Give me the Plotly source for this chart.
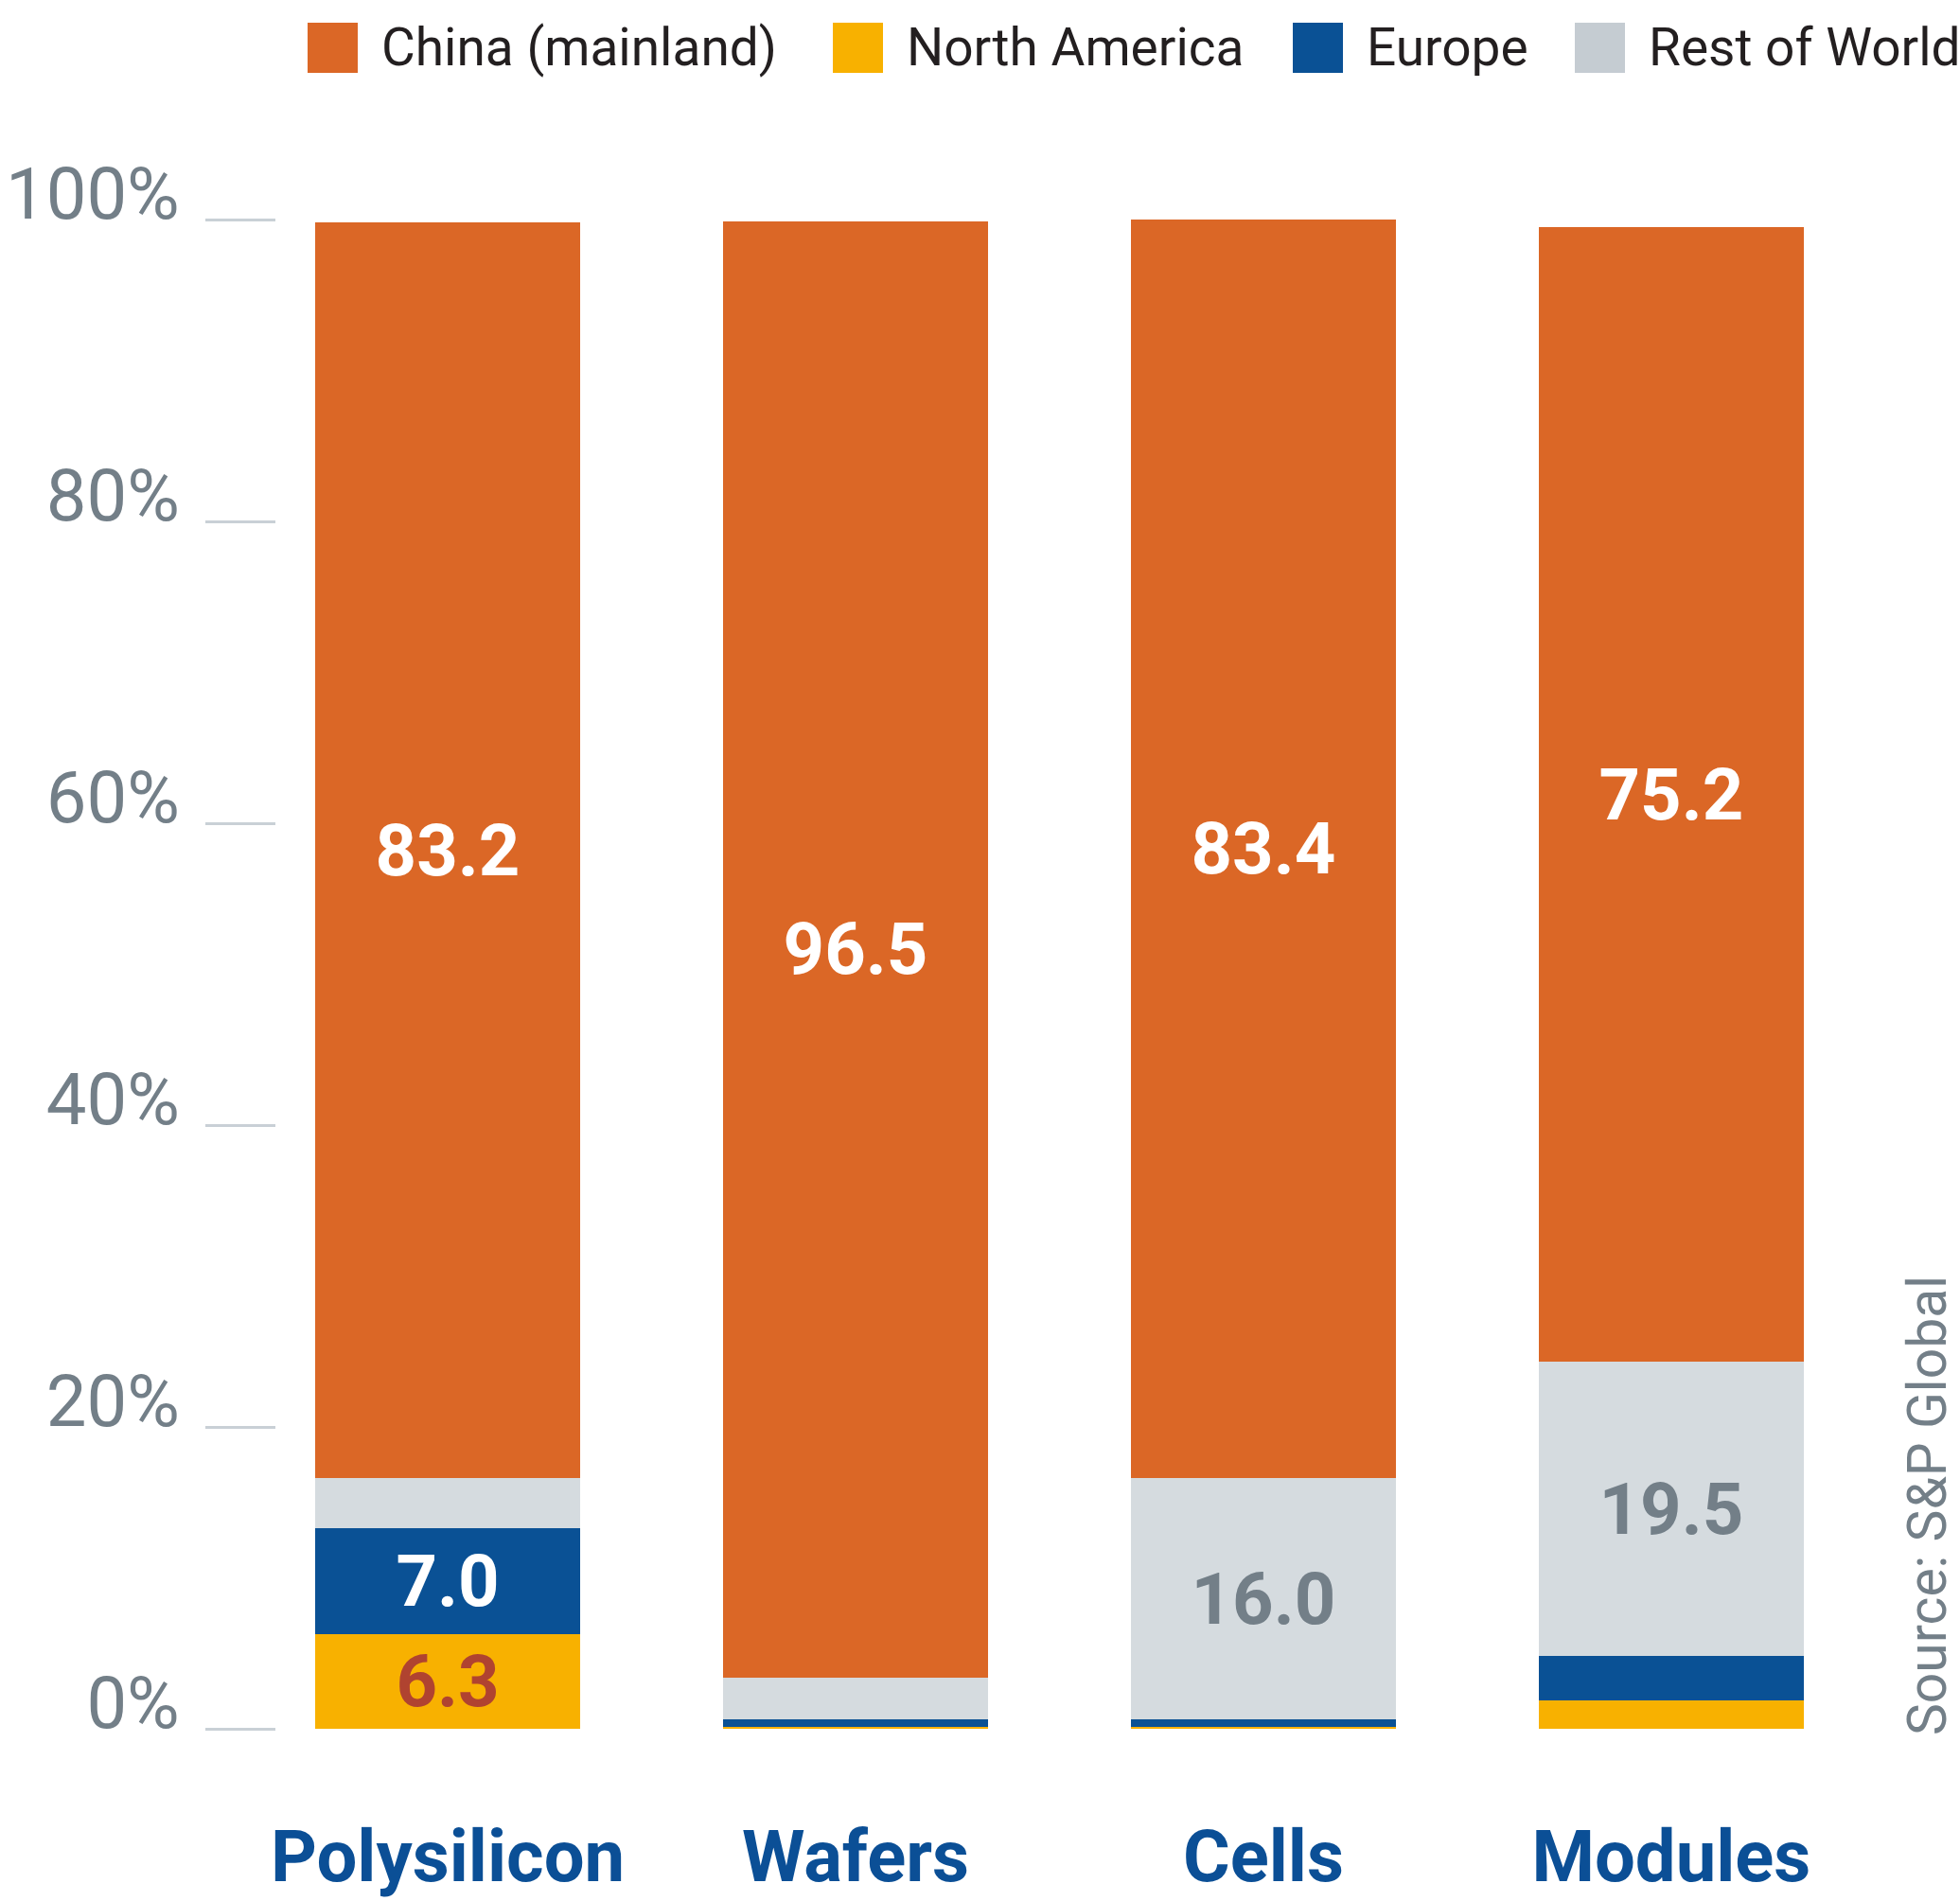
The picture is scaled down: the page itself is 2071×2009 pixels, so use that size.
import plotly.graph_objects as go

# share of global manufacturing capacity, %, by production stage
stages = ['Polysilicon', 'Wafers', 'Cells', 'Modules']

china = [83.2, 96.5, 83.4, 75.2]
north_america = [6.3, 0.1, 0.1, 1.9]
europe = [7.0, 0.5, 0.5, 2.9]
rest_of_world = [3.3, 2.8, 16.0, 19.5]

pct_ticks = [0, 20, 40, 60, 80, 100]
pct_labels = ['0%', '20%', '40%', '60%', '80%', '100%']

##### styling #####

W, H = 2071, 2009
L, R, T, B = 292, 81, 232, 182
FONT = 'Roboto, Liberation Sans, sans-serif'
GREY_TXT = '#737f88'


def px(x):
    '''pixel x -> paper x'''
    return (x - L) / (W - L - R)


def py(y):
    '''pixel y -> paper y'''
    return (H - B - y) / (H - T - B)


def labels(vals):
    # the original only labels the larger segments
    return ['%.1f' % v if v >= 5 else '' for v in vals]


# stacked bottom to top; legend order set separately
series = [
    ('North America', north_america, '#f8b100', '#b04330'),
    ('Europe', europe, '#0a5195', 'white'),
    ('Rest of World', rest_of_world, '#d5dbdf', GREY_TXT),
    ('China (mainland)', china, '#db6726', 'white'),
]

fig = go.Figure()
for name, vals, color, txtcolor in series:
    fig.add_trace(go.Bar(
        x=stages,
        y=vals,
        name=name,
        marker={'color': color, 'line': {'width': 0}},
        text=labels(vals),
        textposition='inside',
        insidetextanchor='middle',
        constraintext='none',
        textfont={'family': FONT, 'size': 76, 'color': txtcolor, 'weight': 'bold'},
        showlegend=False,
        hoverinfo='skip',
    ))

# hand-drawn legend with big swatches, like the source graphic
legend_items = [
    ('China (mainland)', '#db6726', 325),
    ('North America', '#f8b100', 880),
    ('Europe', '#0a5195', 1366),
    ('Rest of World', '#c5ccd2', 1664),
]
shapes = []
annotations = []
for name, color, x0 in legend_items:
    shapes.append(dict(type='rect', xref='paper', yref='paper',
                       x0=px(x0), x1=px(x0 + 53), y0=py(77), y1=py(24),
                       fillcolor=color, line={'width': 0}, layer='above'))
    annotations.append(dict(xref='paper', yref='paper', x=px(x0 + 76), y=py(50),
                            xanchor='left', yanchor='middle', showarrow=False,
                            text=name, font={'family': FONT, 'size': 55, 'color': '#231f20'}))

annotations.append(dict(xref='paper', yref='paper', x=px(2036), y=py(1836),
                        xanchor='center', yanchor='bottom', showarrow=False,
                        textangle=-90, text='Source: S&P Global',
                        font={'family': FONT, 'size': 57, 'color': GREY_TXT}))

fig.update_layout(
    width=W,
    height=H,
    barmode='stack',
    bargap=0.35,
    paper_bgcolor='white',
    plot_bgcolor='white',
    margin={'l': L, 'r': R, 't': T, 'b': B, 'pad': 0},
    shapes=shapes,
    annotations=annotations,
    xaxis={
        'range': [-0.42, 3.52],
        'automargin': False,
        'showgrid': False,
        'showline': False,
        'zeroline': False,
        'ticks': '',
        'ticklabelstandoff': 84,
        'tickfont': {'family': FONT, 'size': 76, 'color': '#0b4f96', 'weight': 'bold'},
    },
    yaxis={
        'range': [0, 100],
        'automargin': False,
        'tickvals': pct_ticks,
        'ticktext': pct_labels,
        'showgrid': False,
        'showline': False,
        'zeroline': False,
        'ticks': 'outside',
        'ticklen': 74,
        'tickwidth': 3,
        'tickcolor': '#c9d0d6',
        'ticklabelstandoff': 12,
        'ticklabelshift': -28,
        'tickfont': {'family': FONT, 'size': 76, 'color': GREY_TXT},
    },
)

# drop the browser's default body margin so the figure fills the window exactly
fig.write_html("out.html", config={'displayModeBar': False},
               post_script="document.body.style.margin='0';")
